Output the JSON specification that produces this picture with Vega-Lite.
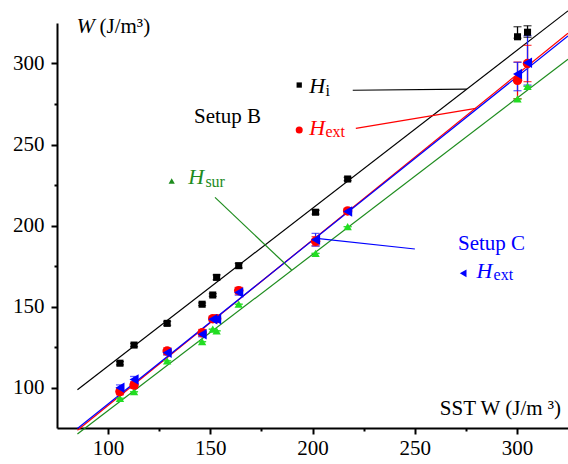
{
  "$schema": "https://vega.github.io/schema/vega-lite/v6.json",
  "width": 511,
  "height": 405,
  "autosize": {"type": "none"},
  "padding": {"left": 57, "top": 23, "right": 0, "bottom": 36},
  "background": "white",
  "config": {
    "view": {"stroke": null},
    "font": "Liberation Serif",
    "axis": {
      "domainColor": "black", "domainWidth": 2, "tickColor": "black", "tickWidth": 2,
      "labelFont": "Liberation Serif", "labelFontSize": 21, "labelColor": "black",
      "grid": false, "title": null, "labelOverlap": false, "labelFlush": false
    }
  },
  "datasets": {
    "pts": [
      {"series": "Hi_B", "x": 105.8, "y": 115.0, "lo": 114.0, "hi": 116.0},
      {"series": "Hi_B", "x": 112.7, "y": 126.2, "lo": 125.2, "hi": 127.2},
      {"series": "Hi_B", "x": 128.9, "y": 139.6, "lo": 138.4, "hi": 140.8},
      {"series": "Hi_B", "x": 146.0, "y": 151.4, "lo": 150.6, "hi": 152.2},
      {"series": "Hi_B", "x": 151.2, "y": 157.1, "lo": 156.3, "hi": 157.9},
      {"series": "Hi_B", "x": 153.1, "y": 168.0, "lo": 166.5, "hi": 169.5},
      {"series": "Hi_B", "x": 163.9, "y": 175.2, "lo": 173.8, "hi": 176.6},
      {"series": "Hi_B", "x": 201.5, "y": 208.2, "lo": 207.0, "hi": 209.4},
      {"series": "Hi_B", "x": 217.2, "y": 228.7, "lo": 227.7, "hi": 229.7},
      {"series": "Hi_B", "x": 300.3, "y": 316.5, "lo": 315.6, "hi": 322.7},
      {"series": "Hi_B", "x": 305.2, "y": 319.3, "lo": 316.2, "hi": 323.3},
      {"series": "Hsur", "x": 105.8, "y": 93.3, "lo": 93.3, "hi": 93.3},
      {"series": "Hsur", "x": 112.7, "y": 97.4, "lo": 97.4, "hi": 97.4},
      {"series": "Hsur", "x": 128.9, "y": 116.5, "lo": 116.5, "hi": 116.5},
      {"series": "Hsur", "x": 146.0, "y": 128.3, "lo": 128.3, "hi": 128.3},
      {"series": "Hsur", "x": 151.2, "y": 136.0, "lo": 136.0, "hi": 136.0},
      {"series": "Hsur", "x": 153.1, "y": 135.0, "lo": 135.0, "hi": 135.0},
      {"series": "Hsur", "x": 163.9, "y": 151.4, "lo": 151.4, "hi": 151.4},
      {"series": "Hsur", "x": 201.5, "y": 182.8, "lo": 182.8, "hi": 182.8},
      {"series": "Hsur", "x": 217.2, "y": 199.3, "lo": 199.3, "hi": 199.3},
      {"series": "Hsur", "x": 300.3, "y": 278.1, "lo": 278.1, "hi": 278.1},
      {"series": "Hsur", "x": 305.2, "y": 285.9, "lo": 285.9, "hi": 285.9},
      {"series": "Hext_B", "x": 105.8, "y": 97.5, "lo": 95.5, "hi": 99.5},
      {"series": "Hext_B", "x": 112.7, "y": 101.5, "lo": 99.5, "hi": 103.5},
      {"series": "Hext_B", "x": 128.9, "y": 122.5, "lo": 120.5, "hi": 124.5},
      {"series": "Hext_B", "x": 146.0, "y": 133.8, "lo": 131.8, "hi": 135.8},
      {"series": "Hext_B", "x": 151.2, "y": 142.5, "lo": 141.3, "hi": 143.7},
      {"series": "Hext_B", "x": 153.1, "y": 142.5, "lo": 141.3, "hi": 143.7},
      {"series": "Hext_B", "x": 163.9, "y": 159.8, "lo": 157.8, "hi": 161.8},
      {"series": "Hext_B", "x": 201.5, "y": 190.3, "lo": 187.5, "hi": 193.1},
      {"series": "Hext_B", "x": 217.2, "y": 209.0, "lo": 207.5, "hi": 210.5},
      {"series": "Hext_B", "x": 300.3, "y": 289.6, "lo": 278.3, "hi": 300.9},
      {"series": "Hext_B", "x": 305.2, "y": 300.0, "lo": 288.8, "hi": 311.2},
      {"series": "Hext_C", "x": 105.8, "y": 99.8, "lo": 98.0, "hi": 101.6},
      {"series": "Hext_C", "x": 112.7, "y": 105.0, "lo": 103.2, "hi": 106.8},
      {"series": "Hext_C", "x": 128.9, "y": 121.5, "lo": 120.0, "hi": 123.0},
      {"series": "Hext_C", "x": 146.0, "y": 132.8, "lo": 131.3, "hi": 134.3},
      {"series": "Hext_C", "x": 151.2, "y": 142.1, "lo": 140.8, "hi": 143.4},
      {"series": "Hext_C", "x": 153.1, "y": 142.1, "lo": 140.8, "hi": 143.4},
      {"series": "Hext_C", "x": 163.9, "y": 158.6, "lo": 157.0, "hi": 160.2},
      {"series": "Hext_C", "x": 201.5, "y": 191.2, "lo": 187.3, "hi": 195.2},
      {"series": "Hext_C", "x": 217.2, "y": 208.7, "lo": 207.3, "hi": 210.1},
      {"series": "Hext_C", "x": 300.3, "y": 293.5, "lo": 283.2, "hi": 300.7},
      {"series": "Hext_C", "x": 305.2, "y": 300.5, "lo": 286.7, "hi": 317.2}
    ],
    "fits": [
      {"series": "Hi_B", "x": 85, "y": 98.6},
      {"series": "Hi_B", "x": 325, "y": 332.5},
      {"series": "Hsur", "x": 85, "y": 71.3},
      {"series": "Hsur", "x": 325, "y": 302.6},
      {"series": "Hext_B", "x": 85, "y": 73.6},
      {"series": "Hext_B", "x": 325, "y": 318.7},
      {"series": "Hext_C", "x": 85, "y": 74.7},
      {"series": "Hext_C", "x": 325, "y": 317.0}
    ],
    "leaders": [
      {"series": "Hi_B", "x": 219.7, "y": 283.5, "x2": 275.5, "y2": 284.2},
      {"series": "Hext_B", "x": 221.2, "y": 260.0, "x2": 279.9, "y2": 272.3},
      {"series": "Hsur", "x": 152.3, "y": 217.4, "x2": 189.8, "y2": 172.5},
      {"series": "Hext_C", "x": 202.0, "y": 192.1, "x2": 250.1, "y2": 185.5}
    ],
    "keys": [
      {"series": "Hi_B", "x": 193.5, "y": 286.7},
      {"series": "Hext_B", "x": 193.5, "y": 259.0},
      {"series": "Hsur", "x": 131.1, "y": 227.5},
      {"series": "Hext_C", "x": 273.7, "y": 170.5}
    ],
    "hLabels": [
      {"series": "Hi_B", "x": 198.4, "y": 281.5, "text": "H"},
      {"series": "Hext_B", "x": 198.4, "y": 255.9, "text": "H"},
      {"series": "Hsur", "x": 139.2, "y": 225.4, "text": "H"},
      {"series": "Hext_C", "x": 280.2, "y": 167.4, "text": "H"},
      {"series": "Axis", "x": 84.6, "y": 318.6, "text": "W"}
    ],
    "subLabels": [
      {"series": "Hi_B", "x": 206.3, "y": 280.0, "text": "i"},
      {"series": "Hext_B", "x": 206.3, "y": 254.4, "text": "ext"},
      {"series": "Hsur", "x": 147.6, "y": 224.0, "text": "sur"},
      {"series": "Hext_C", "x": 288.6, "y": 166.2, "text": "ext"}
    ],
    "plainLabels": [
      {"series": "Hi_B", "x": 142.0, "y": 263.1, "text": "Setup B"},
      {"series": "Hext_C", "x": 271.2, "y": 184.9, "text": "Setup C"},
      {"series": "Axis", "x": 95.8, "y": 318.6, "text": "(J/m³)"},
      {"series": "Axis", "x": 262.3, "y": 83.0, "text": "SST W (J/m ³)"}
    ]
  },
  "layer": [
    {
      "data": {"name": "fits"},
      "mark": {"type": "line", "strokeWidth": 1.2, "clip": false},
      "encoding": {
        "x": {
          "field": "x", "type": "quantitative",
          "scale": {"domain": [75, 325], "nice": false, "zero": false},
          "axis": {
            "values": [100, 125, 150, 175, 200, 225, 250, 275, 300],
            "labelExpr": "datum.value % 50 === 0 ? datum.label : ''",
            "tickSize": {"condition": {"test": "datum.value % 50 === 0", "value": 6}, "value": 3},
            "labelPadding": 3
          }
        },
        "y": {
          "field": "y", "type": "quantitative",
          "scale": {"domain": [75, 325], "nice": false, "zero": false},
          "axis": {
            "values": [100, 125, 150, 175, 200, 225, 250, 275, 300],
            "labelExpr": "datum.value % 50 === 0 ? datum.label : ''",
            "tickSize": {"condition": {"test": "datum.value % 50 === 0", "value": 6}, "value": 3},
            "labelPadding": 7
          }
        },
        "detail": {"field": "series"},
        "color": {"field": "series", "type": "nominal", "legend": null,
          "scale": {"domain": ["Hi_B", "Hsur", "Hext_B", "Hext_C"], "range": ["#000000", "#1e8c1e", "#ff0000", "#0000ff"]}}
      }
    },
    {
      "data": {"name": "leaders"},
      "mark": {"type": "rule", "strokeWidth": 1.2},
      "encoding": {
        "x": {"field": "x", "type": "quantitative"},
        "y": {"field": "y", "type": "quantitative"},
        "x2": {"field": "x2"},
        "y2": {"field": "y2"},
        "color": {"field": "series", "type": "nominal", "legend": null,
          "scale": {"domain": ["Hi_B", "Hsur", "Hext_B", "Hext_C"], "range": ["#000000", "#1e8c1e", "#ff0000", "#0000ff"]}}
      }
    },
    {
      "data": {"name": "pts"},
      "mark": {"type": "rule", "strokeWidth": 1.3},
      "encoding": {
        "x": {"field": "x", "type": "quantitative"},
        "y": {"field": "lo", "type": "quantitative"},
        "y2": {"field": "hi"},
        "color": {"field": "series", "type": "nominal", "legend": null,
          "scale": {"domain": ["Hi_B", "Hsur", "Hext_B", "Hext_C"], "range": ["#000000", "#22dd22", "#ff0000", "#2020ff"]}}
      }
    },
    {
      "data": {"name": "pts"},
      "mark": {"type": "tick", "orient": "horizontal", "size": 8, "thickness": 1.3},
      "encoding": {
        "x": {"field": "x", "type": "quantitative"},
        "y": {"field": "lo", "type": "quantitative"},
        "color": {"field": "series", "type": "nominal", "legend": null,
          "scale": {"domain": ["Hi_B", "Hsur", "Hext_B", "Hext_C"], "range": ["#000000", "#22dd22", "#ff0000", "#2020ff"]}}
      }
    },
    {
      "data": {"name": "pts"},
      "mark": {"type": "tick", "orient": "horizontal", "size": 8, "thickness": 1.3},
      "encoding": {
        "x": {"field": "x", "type": "quantitative"},
        "y": {"field": "hi", "type": "quantitative"},
        "color": {"field": "series", "type": "nominal", "legend": null,
          "scale": {"domain": ["Hi_B", "Hsur", "Hext_B", "Hext_C"], "range": ["#000000", "#22dd22", "#ff0000", "#2020ff"]}}
      }
    },
    {
      "data": {"name": "pts"},
      "mark": {"type": "point", "filled": true, "opacity": 1},
      "encoding": {
        "x": {"field": "x", "type": "quantitative"},
        "y": {"field": "y", "type": "quantitative"},
        "color": {"field": "series", "type": "nominal", "legend": null,
          "scale": {"domain": ["Hi_B", "Hsur", "Hext_B", "Hext_C"], "range": ["#000000", "#22dd22", "#ff0000", "#0000ff"]}},
        "shape": {"field": "series", "type": "nominal", "legend": null,
          "scale": {"domain": ["Hi_B", "Hsur", "Hext_B", "Hext_C"], "range": ["square", "triangle-up", "circle", "triangle-left"]}},
        "size": {"field": "series", "type": "nominal", "legend": null,
          "scale": {"domain": ["Hi_B", "Hsur", "Hext_B", "Hext_C"], "range": [50, 110, 50, 110]}}
      }
    },
    {
      "data": {"name": "keys"},
      "mark": {"type": "point", "filled": true, "opacity": 1},
      "encoding": {
        "x": {"field": "x", "type": "quantitative"},
        "y": {"field": "y", "type": "quantitative"},
        "color": {"field": "series", "type": "nominal", "legend": null,
          "scale": {"domain": ["Hi_B", "Hsur", "Hext_B", "Hext_C"], "range": ["#000000", "#1e8c1e", "#ff0000", "#0000ff"]}},
        "shape": {"field": "series", "type": "nominal", "legend": null,
          "scale": {"domain": ["Hi_B", "Hsur", "Hext_B", "Hext_C"], "range": ["square", "triangle-up", "circle", "triangle-left"]}},
        "size": {"field": "series", "type": "nominal", "legend": null,
          "scale": {"domain": ["Hi_B", "Hsur", "Hext_B", "Hext_C"], "range": [28, 60, 32, 60]}}
      }
    },
    {
      "data": {"name": "hLabels"},
      "mark": {"type": "text", "align": "left", "baseline": "alphabetic", "fontSize": 22, "fontStyle": "italic", "font": "Liberation Serif"},
      "encoding": {
        "x": {"field": "x", "type": "quantitative"},
        "y": {"field": "y", "type": "quantitative"},
        "text": {"field": "text"},
        "color": {"field": "series", "type": "nominal", "legend": null,
          "scale": {"domain": ["Hi_B", "Hsur", "Hext_B", "Hext_C", "Axis"], "range": ["#000000", "#1e8c1e", "#ff0000", "#0000ff", "#000000"]}}
      }
    },
    {
      "data": {"name": "subLabels"},
      "mark": {"type": "text", "align": "left", "baseline": "alphabetic", "fontSize": 16, "font": "Liberation Serif"},
      "encoding": {
        "x": {"field": "x", "type": "quantitative"},
        "y": {"field": "y", "type": "quantitative"},
        "text": {"field": "text"},
        "color": {"field": "series", "type": "nominal", "legend": null,
          "scale": {"domain": ["Hi_B", "Hsur", "Hext_B", "Hext_C"], "range": ["#000000", "#1e8c1e", "#ff0000", "#0000ff"]}}
      }
    },
    {
      "data": {"name": "plainLabels"},
      "mark": {"type": "text", "align": "left", "baseline": "alphabetic", "fontSize": 21, "font": "Liberation Serif"},
      "encoding": {
        "x": {"field": "x", "type": "quantitative"},
        "y": {"field": "y", "type": "quantitative"},
        "text": {"field": "text"},
        "color": {"field": "series", "type": "nominal", "legend": null,
          "scale": {"domain": ["Hi_B", "Hext_C", "Axis"], "range": ["#000000", "#0000ff", "#000000"]}}
      }
    }
  ],
  "resolve": {"scale": {"color": "independent", "shape": "independent", "size": "independent"}}
}
